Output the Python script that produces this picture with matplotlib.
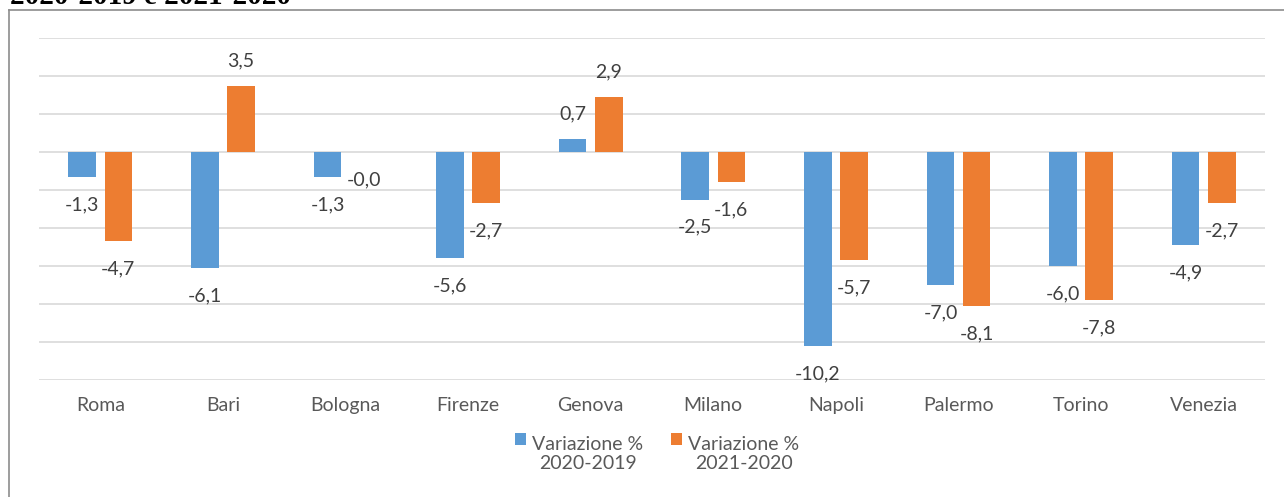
import numpy as np
import matplotlib
matplotlib.use('Agg')
from matplotlib import pyplot as plt
from matplotlib.lines import Line2D
from matplotlib.patches import Rectangle
from matplotlib.legend_handler import HandlerPatch

# Dati
citta = ['Roma', 'Bari', 'Bologna', 'Firenze', 'Genova', 'Milano',
         'Napoli', 'Palermo', 'Torino', 'Venezia']
var_2020_2019 = [-1.3, -6.1, -1.3, -5.6, 0.7, -2.5, -10.2, -7.0, -6.0, -4.9]
var_2021_2020 = [-4.7, 3.5, -0.02, -2.7, 2.9, -1.6, -5.7, -8.1, -7.8, -2.7]
serie_labels = ['Variazione %\n2020-2019', 'Variazione %\n2021-2020']
titolo = '2020-2019 e 2021-2020'

plt.rcParams['font.family'] = ['Lato', 'DejaVu Sans']

fig = plt.figure(figsize=(12.84, 4.97), dpi=100)
W, H = 1284, 497

# Cornice del grafico (solo lato sinistro e superiore sono visibili)
fig.add_artist(Line2D([9 / W, 9 / W], [0, 1 - 10 / H], transform=fig.transFigure,
                      color='#8c8c8c', linewidth=1.2))
fig.add_artist(Line2D([9 / W, 1], [1 - 10 / H, 1 - 10 / H], transform=fig.transFigure,
                      color='#8c8c8c', linewidth=1.2))

# Titolo tagliato in alto
fig.text(10 / W, 1 - 3.5 / H, titolo, fontsize=21, fontweight='bold',
         family='Liberation Serif', va='baseline', ha='left', color='black')

ax = fig.add_axes([39 / W, 1 - 380 / H, (1265 - 39) / W, (380 - 38) / H])

x = np.arange(len(citta))
w = 0.225
off = 0.147
b1 = ax.bar(x - off, var_2020_2019, w, color='#5b9bd5', zorder=3)
b2 = ax.bar(x + off, var_2021_2020, w, color='#ed7d31', zorder=3)

# Etichette dei valori
for bars, vals in ((b1, var_2020_2019), (b2, var_2021_2020)):
    for r, v in zip(bars, vals):
        cx = r.get_x() + r.get_width() / 2
        dy = 18 if v >= 0 else -20
        ax.annotate(f'{v:.1f}'.replace('.', ','), (cx, v), xytext=(0, dy),
                    textcoords='offset points', ha='center', va='center',
                    fontsize=14, color='#404040', zorder=4)

ax.set_ylim(-12, 6)
ax.set_xlim(-0.5, len(citta) - 0.5)
ax.set_yticks(np.arange(-12, 7, 2))
ax.yaxis.grid(True, color='#d9d9d9', linewidth=1.2, zorder=0)
ax.set_axisbelow(True)
ax.set_xticks(x)
ax.set_xticklabels(citta, fontsize=14, color='#595959')
ax.tick_params(axis='x', length=0, pad=12)
ax.tick_params(axis='y', length=0, labelleft=False)
for s in ax.spines.values():
    s.set_visible(False)


# quadratino della legenda allineato alla prima riga del testo
def quadrato_alto(legend, orig_handle, xdescent, ydescent, width, height, fontsize):
    return Rectangle((-xdescent, -ydescent + 11), width, height)


h1, h2 = b1.patches[0], b2.patches[0]
leg = fig.legend([h1, h2], serie_labels, loc='upper center', ncol=2, frameon=False,
                 bbox_to_anchor=(657 / W, 1 - 418 / H), fontsize=14,
                 handlelength=0.6, handleheight=0.6, handletextpad=0.3,
                 columnspacing=1.4, labelcolor='#595959',
                 handler_map={h1: HandlerPatch(patch_func=quadrato_alto),
                              h2: HandlerPatch(patch_func=quadrato_alto)})
for t in leg.get_texts():
    t.set_multialignment('center')
    t.set_linespacing(1.2)

plt.savefig('out.png', dpi=100)
